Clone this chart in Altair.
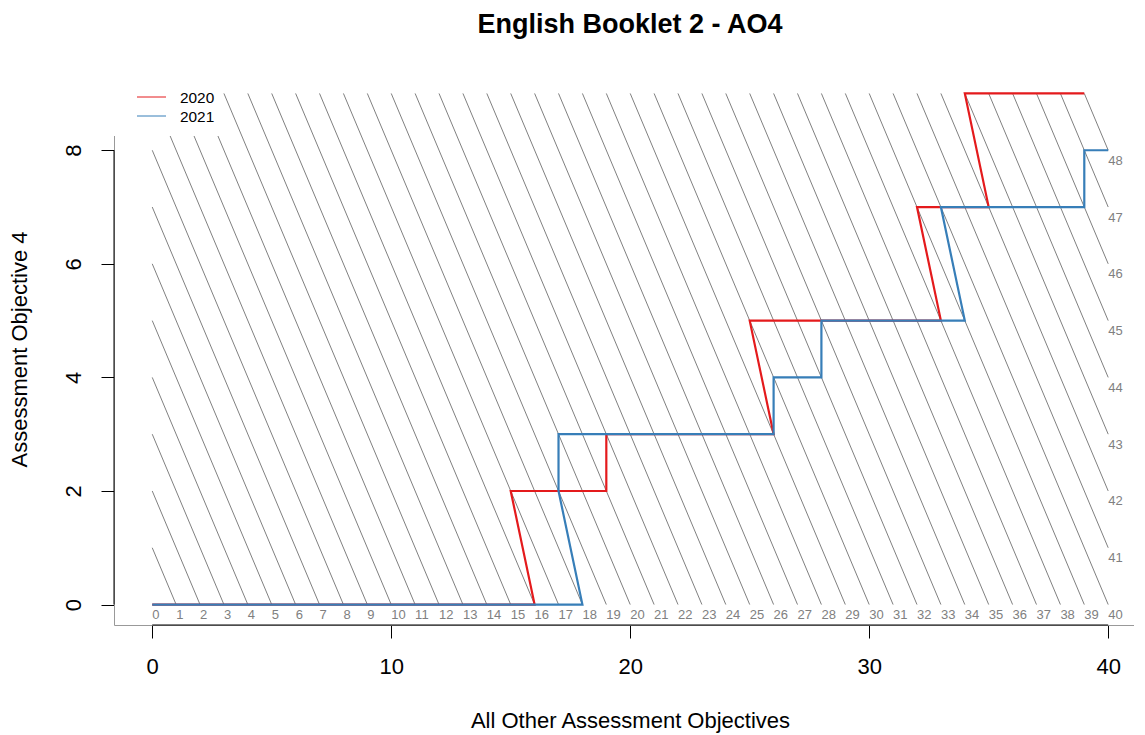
import altair as alt
import pandas as pd

TITLE = "English Booklet 2 - AO4"
X_TITLE = "All Other Assessment Objectives"
Y_TITLE = "Assessment Objective 4"
FONT = "Liberation Sans"

years = ["2020", "2021"]
colors = ["#E41A1C", "#377EB8"]

# total score 0..48 and the AO4 mark on each year's boundary path
total_scores = [0, 1, 2, 3, 4, 5, 6, 7, 8, 9, 10, 11, 12, 13, 14, 15, 16, 17, 18, 19, 20,
                21, 22, 23, 24, 25, 26, 27, 28, 29, 30, 31, 32, 33, 34, 35, 36, 37, 38, 39,
                40, 41, 42, 43, 44, 45, 46, 47, 48]
ao4_2020 = [0, 0, 0, 0, 0, 0, 0, 0, 0, 0, 0, 0, 0, 0, 0, 0, 0, 2, 2, 2, 2,
            2, 3, 3, 3, 3, 3, 3, 3, 3, 5, 5, 5, 5, 5, 5, 5, 5, 5, 7,
            7, 7, 7, 9, 9, 9, 9, 9, 9]
ao4_2021 = [0, 0, 0, 0, 0, 0, 0, 0, 0, 0, 0, 0, 0, 0, 0, 0, 0, 0, 0, 2, 3,
            3, 3, 3, 3, 3, 3, 3, 3, 3, 4, 4, 4, 5, 5, 5, 5, 5, 5, 5,
            7, 7, 7, 7, 7, 7, 7, 8, 8]

max_other = 40
max_ao4 = 9
x_ticks = [0, 10, 20, 30, 40]
y_ticks = [0, 2, 4, 6, 8]

W, H = 1020, 552

# ---- data tables -------------------------------------------------------
series = {}
for yr, ao4 in zip(years, [ao4_2020, ao4_2021]):
    series[yr] = pd.DataFrame({
        "total": total_scores,
        "ao4": ao4,
        "other": [t - a for t, a in zip(total_scores, ao4)],
    })

grid_rows = []
for t in total_scores[1:]:
    grid_rows.append({
        "other": max(0, t - max_ao4), "ao4": min(max_ao4, t),
        "other2": min(t, max_other), "ao42": max(0, t - max_other),
    })
grid_df = pd.DataFrame(grid_rows)

label_df = pd.DataFrame({
    "other": [min(t, max_other) for t in total_scores],
    "ao4": [max(0, t - max_other) for t in total_scores],
    "label": [str(t) for t in total_scores],
})

xs = alt.Scale(domain=[-1.6, 41.08], nice=False, zero=False)
ys = alt.Scale(domain=[-0.36, 9.36], nice=False, zero=False)

x_axis = alt.Axis(
    values=x_ticks, title=X_TITLE, grid=False, orient="bottom",
    domainColor="#999999", domainWidth=1,
    tickColor="black", tickSize=13, tickWidth=1,
    labelFont=FONT, labelFontSize=22, labelColor="black",
    labelBaseline="alphabetic", labelPadding=35, labelFlush=False, labelOverlap=False,
    titleFont=FONT, titleFontSize=22, titleFontWeight="normal", titleColor="black",
    titleX=516, titleY=102, titleBaseline="alphabetic", titleAlign="center",
)
y_axis = alt.Axis(
    values=y_ticks, title=Y_TITLE, grid=False, orient="left",
    domainColor="#999999", domainWidth=1,
    tickColor="black", tickSize=13, tickWidth=1,
    labelFont=FONT, labelFontSize=22, labelColor="black",
    labelAngle=270, labelAlign="center", labelBaseline="alphabetic",
    labelPadding=21, labelFlush=False, labelOverlap=False,
    titleFont=FONT, titleFontSize=22, titleFontWeight="normal", titleColor="black",
    titleAngle=270, titleX=-88, titleY=H / 2, titleBaseline="alphabetic", titleAlign="center",
)


def X(field):
    return alt.X(field, type="quantitative", scale=xs, axis=x_axis)


def Y(field):
    return alt.Y(field, type="quantitative", scale=ys, axis=y_axis)


grid = alt.Chart(grid_df).mark_rule(color="#808080", strokeWidth=1).encode(
    x=X("other"), y=Y("ao4"), x2="other2:Q", y2="ao42:Q",
)

labels = alt.Chart(label_df).mark_text(
    align="left", baseline="alphabetic", dy=14.5, fontSize=13, color="#808080", font=FONT
).encode(x=X("other"), y=Y("ao4"), text="label:N")

# black axis lines spanning first to last tick
xline = alt.Chart(pd.DataFrame({"other": [min(x_ticks)], "other2": [max(x_ticks)]})).mark_rule(
    color="black", strokeWidth=1
).encode(x=X("other"), x2="other2:Q", y=alt.value(H))
yline = alt.Chart(pd.DataFrame({"ao4": [min(y_ticks)], "ao42": [max(y_ticks)]})).mark_rule(
    color="black", strokeWidth=1
).encode(y=Y("ao4"), y2="ao42:Q", x=alt.value(0))

# chart title as a text mark above the plot area
title = alt.Chart(pd.DataFrame({"t": [TITLE]})).mark_text(
    align="center", baseline="alphabetic", fontSize=27, fontWeight="bold", font=FONT, color="black"
).encode(x=alt.value(516), y=alt.value(-40), text="t:N")

# legend box
legend_bg = alt.Chart(pd.DataFrame({"k": [0]})).mark_rect(color="white").encode(
    x=alt.value(0), x2=alt.value(106), y=alt.value(0), y2=alt.value(63)
)
legend_layers = [legend_bg]
for i, (yr, col) in enumerate(zip(years, colors)):
    d = pd.DataFrame({"year": [yr]})
    legend_layers.append(
        alt.Chart(d).mark_rule(color=col, strokeWidth=1).encode(
            x=alt.value(23), x2=alt.value(52), y=alt.value(24 + 19 * i)
        )
    )
    legend_layers.append(
        alt.Chart(d).mark_text(
            align="left", baseline="alphabetic", fontSize=15.4, font=FONT, color="black"
        ).encode(x=alt.value(66), y=alt.value(30.3 + 19 * i), text="year:N")
    )

lines = []
for yr, col in zip(years, colors):
    lines.append(
        alt.Chart(series[yr]).mark_line(color=col, strokeWidth=2.2).encode(
            x=X("other"), y=Y("ao4"), order="total:Q",
        )
    )

chart = alt.layer(grid, labels, xline, yline, title, *legend_layers, *lines).properties(
    width=W,
    height=H,
    padding={"left": 106, "top": 65, "right": 0, "bottom": 110},
    autosize=alt.AutoSizeParams(type="none"),
).configure(background="white").configure_view(stroke=None)

chart.save("out.html", embed_options={"renderer": "svg", "actions": False})
